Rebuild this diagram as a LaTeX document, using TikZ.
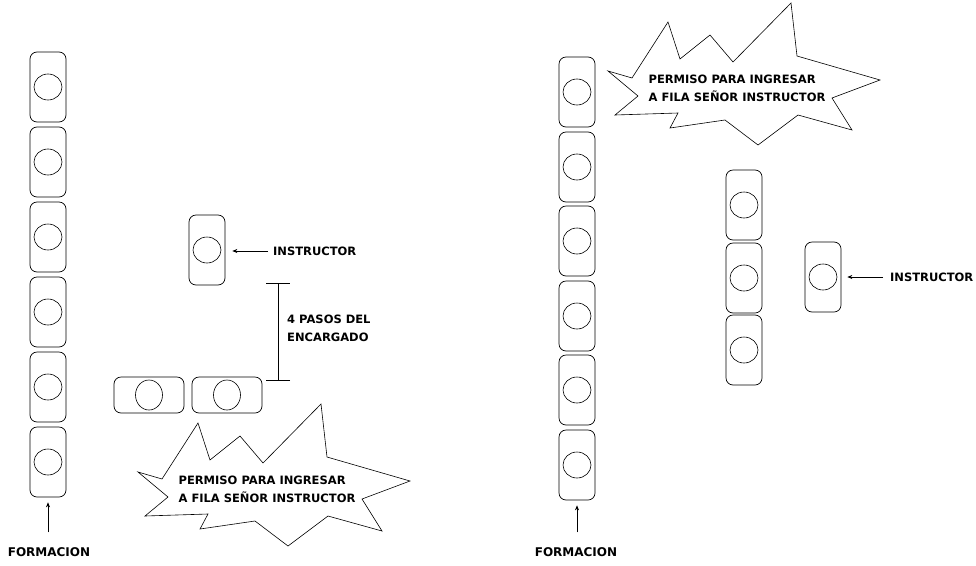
\documentclass[tikz,border=0pt]{standalone}
\usepackage{fontspec}
\setmainfont{DejaVu Sans}
\usetikzlibrary{arrows.meta,calc,positioning}

% contour de l'étoile (relatif au centre du texte)
\newcommand{\etoile}[1]{%
  \draw[line width=0.6pt, shift={(#1)}]
    (-69,-66) -- (-57,-29) -- (-27,-53) -- (-4,-26) -- (54,-85) -- (60,-32)
    -- (143,-8) -- (95,10) -- (115,42) -- (61,27) -- (21,57) -- (-12,32)
    -- (-67,40) -- (-59,25) -- (-122,27) -- (-99,8) -- (-129,-17) -- (-105,-10) -- cycle;}

\begin{document}
\begin{tikzpicture}[x=1pt, y=-1pt,
		persona/.style={draw, rounded corners=7pt, line width=0.7pt, inner sep=0pt,
			minimum width=36pt, minimum height=70pt,
			path picture={\draw[line width=0.6pt, sharp corners] (path picture bounding box.center) ellipse (14pt and 13pt);}},
		personah/.style={draw, rounded corners=7pt, line width=0.7pt, inner sep=0pt,
			minimum width=70pt, minimum height=36pt,
			path picture={\draw[line width=0.6pt, sharp corners] (path picture bounding box.center) ellipse (13.5pt and 15pt);}},
		etiquette/.style={font=\bfseries\fontsize{11.5}{18}\selectfont, inner sep=0pt, align=left},
		grande/.style={font=\bfseries\fontsize{12}{15}\selectfont, inner sep=0pt},
		fleche/.style={-{Stealth[length=5pt, width=4pt]}, line width=0.6pt}
		]

		\path[use as bounding box, fill=white] (0,0) rectangle (976,565);

		% --- Première formation (à gauche) ---
		\node[persona] (L1) at (48,87) {};
		\node[persona] (L2) at (48,162) {};
		\node[persona] (L3) at (48,237) {};
		\node[persona] (L4) at (48,312) {};
		\node[persona] (L5) at (48,387) {};
		\node[persona] (L6) at (48,462) {};
		\node[grande] (formL) at (49,552) {FORMACION};
		\draw[fleche, shorten <=15pt, shorten >=5pt] (formL.north -| L6.south) -- (L6.south);

		% Instructeur et encargado
		\node[persona] (insL) at (207,250) {};
		\node[etiquette, anchor=west] (txtInsL) at (273,251) {INSTRUCTOR};
		\draw[fleche, shorten <=5pt, shorten >=7pt] (txtInsL.west) -- (insL.east |- txtInsL.west);

		\node[personah] (H1) at (149,395) {};
		\node[personah] (H2) at (227,395) {};

		% Mesure des 4 pas
		\coordinate (mesA) at (278,283);
		\coordinate (mesB) at (278,381);
		\draw[line width=0.6pt, {Bar[width=24pt]}-{Bar[width=24pt]}] (mesA) -- (mesB);
		\node[etiquette, anchor=west] (pasos) at (287,328) {4 PASOS DEL\\ENCARGADO};

		% Bulle
		\node[etiquette] (crieL) at (267,489) {PERMISO PARA INGRESAR\\A FILA SEÑOR INSTRUCTOR};
		\etoile{crieL.center}

		% --- Deuxième formation (à droite) ---
		\node[persona] (R1) at (577,92) {};
		\node[persona] (R2) at (577,167) {};
		\node[persona] (R3) at (577,241) {};
		\node[persona] (R4) at (577,316) {};
		\node[persona] (R5) at (577,390) {};
		\node[persona] (R6) at (577,465) {};
		\node[grande] (formR) at (576,552) {FORMACION};
		\draw[fleche, shorten <=15pt, shorten >=5pt] (formR.north -| R6.south) -- (R6.south);

		\node[persona] (M1) at (744,205) {};
		\node[persona] (M2) at (744,278) {};
		\node[persona] (M3) at (744,350) {};

		\node[persona] (insR) at (823,277) {};
		\node[etiquette, anchor=west] (txtInsR) at (890,277) {INSTRUCTOR};
		\draw[fleche, shorten <=7pt, shorten >=6pt] (txtInsR.west) -- (insR.east |- txtInsR.west);

		% Bulle
		\node[etiquette] (crieR) at (737,88) {PERMISO PARA INGRESAR\\A FILA SEÑOR INSTRUCTOR};
		\etoile{crieR.center}

	\end{tikzpicture}
\end{document}
